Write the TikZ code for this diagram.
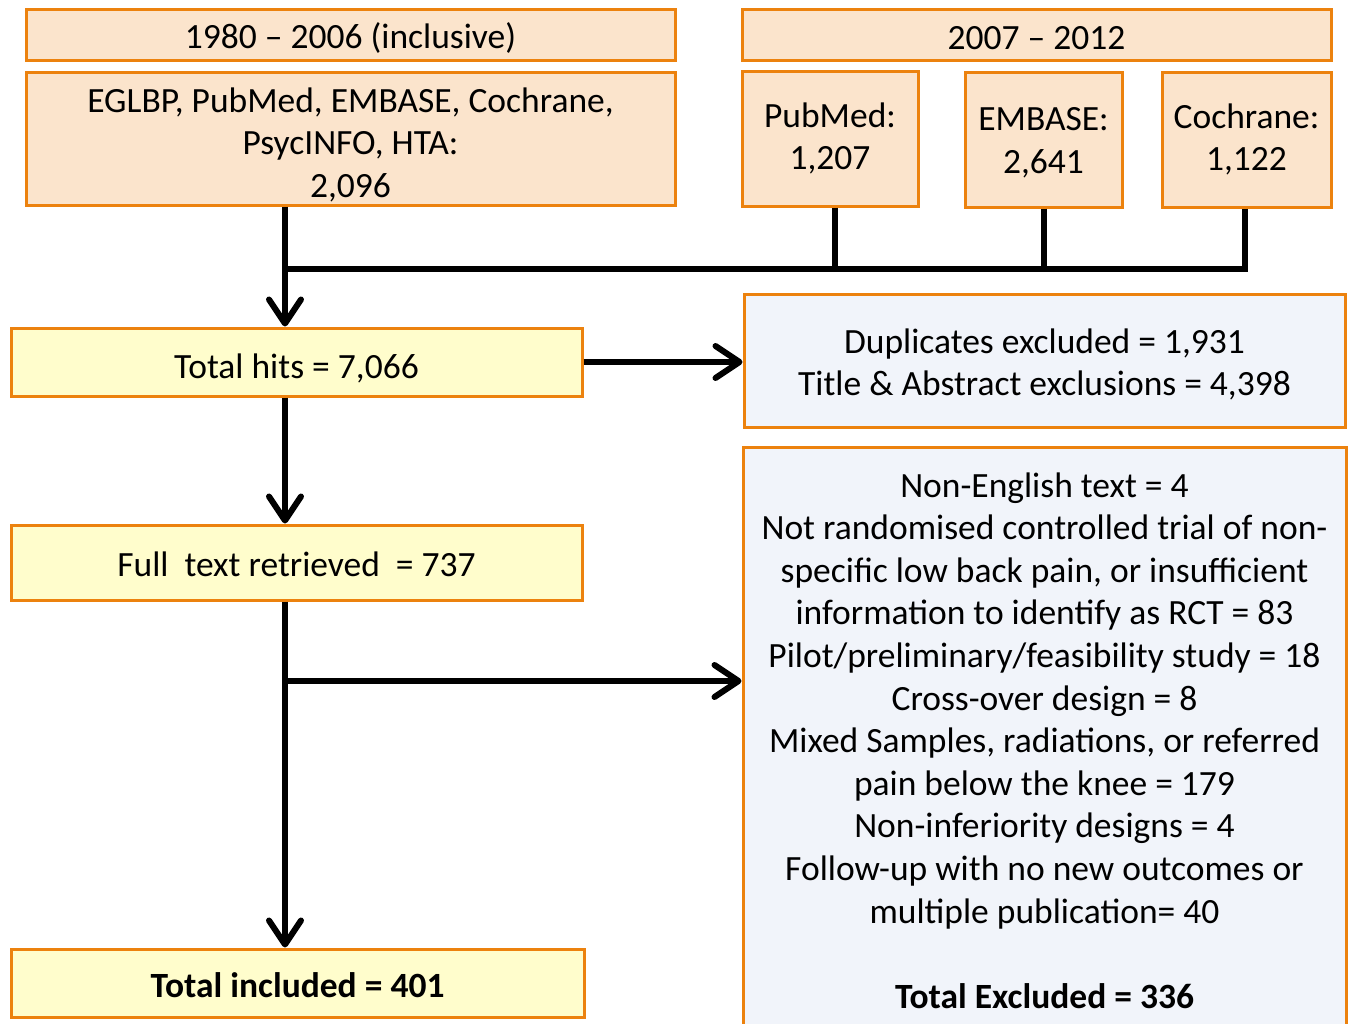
\documentclass[tikz,border=0pt]{standalone}
\usepackage{fontspec}
\setmainfont{Carlito}
\usetikzlibrary{arrows.meta}
\definecolor{borange}{RGB}{236,130,14}
\definecolor{peach}{RGB}{251,228,204}
\definecolor{lyellow}{RGB}{255,253,204}
\definecolor{lblue}{RGB}{241,244,250}
\tikzset{
  box/.style={draw=borange, line width=3pt, rectangle, inner sep=0pt, align=center,
    font=\fontsize{35.5}{42.5}\selectfont},
  one/.style={text height=28pt, text depth=0pt},
  txt/.style={inner sep=0pt, align=center, font=\fontsize{35.5}{42.5}\selectfont},
  peachbox/.style={box, fill=peach},
  yellowbox/.style={box, fill=lyellow},
  bluebox/.style={box, fill=lblue},
  conn/.style={line width=6pt, black},
  arr/.style={conn, -{Straight Barb[length=24pt,width=32pt,line cap=round,line join=round]}},
}
\begin{document}
\begin{tikzpicture}[x=1pt,y=-1pt]
\fill[white] (0,0) rectangle (1349,1023);
\useasboundingbox (0,0) rectangle (1349,1023);

\node[peachbox, one, minimum width=649pt, minimum height=51pt] (A) at (350.5,34.5) {1980 -- 2006 (inclusive)};
\node[peachbox, minimum width=649pt, minimum height=133pt] (B) at (350.5,138.5) {};
\node[txt, yshift=-6pt] (Bt) at (B) {EGLBP, PubMed, EMBASE, Cochrane,\\ PsycINFO, HTA:\\ 2,096};
\node[peachbox, text height=30pt, text depth=0pt, minimum width=589pt, minimum height=51pt] (C) at (1036.5,34.5) {2007 -- 2012};
\node[peachbox, minimum width=176pt, minimum height=135pt] (P) at (830,138.5) {PubMed:\\1,207};
\node[peachbox, minimum width=157pt, minimum height=135pt] (E) at (1043.5,139.5) {};
\node[txt, yshift=-3pt] (Et) at (E) {EMBASE:\\2,641};
\node[peachbox, minimum width=169pt, minimum height=135pt] (Co) at (1246.5,139.5) {Cochrane:\\1,122};

\node[yellowbox, text height=32pt, text depth=0pt, minimum width=571pt, minimum height=68pt] (TH) at (296.5,362) {Total hits = 7,066};
\node[bluebox, minimum width=601pt, minimum height=133pt] (D) at (1044.5,360.5) {};
\node[txt, yshift=-4pt] (Dt) at (D) {Duplicates excluded = 1,931\\Title \& Abstract exclusions = 4,398};
\node[yellowbox, one, minimum width=571pt, minimum height=75pt] (FT) at (296.5,562.5) {Full\ \ text retrieved\ \ = 737};
\node[yellowbox, one, minimum width=573pt, minimum height=68pt] (TI) at (297.5,983) {\bfseries Total included = 401};
\node[bluebox, minimum width=603pt, minimum height=583pt] (X) at (1044.5,738.5) {};
\node[txt, yshift=-2pt, font=\fontsize{35.5}{42.6}\selectfont] (Xt) at (X)
  {Non-English text = 4\\
   Not randomised controlled trial of non-\\
   specific low back pain, or insufficient\\
   information to identify as RCT = 83\\
   Pilot/preliminary/feasibility study = 18\\
   Cross-over design = 8\\
   Mixed Samples, radiations, or referred\\
   pain below the knee = 179\\
   Non-inferiority designs = 4\\
   Follow-up with no new outcomes or\\
   multiple publication= 40\\[42.6pt]
   \bfseries Total Excluded = 336};

\coordinate (j1) at (285,269);
\coordinate (j2) at (285,681);
\coordinate (ps) at ([xshift=5pt]P.south);
\coordinate (cs) at ([xshift=-2pt]Co.south);

\draw[conn] (ps) -- (ps |- j1);
\draw[conn] (E.south) -- (E.south |- j1);
\draw[conn] (cs) -- (cs |- j1) -- (j1);
\draw[arr] (B.south -| j1) -- (TH.north -| j1);
\draw[arr] (TH.east) -- (TH.east -| D.west);
\draw[arr] (TH.south -| j1) -- (FT.north -| j1);
\draw[arr] (FT.south -| j1) -- (TI.north -| j1);
\draw[arr] (j2) -- (j2 -| X.west);
\end{tikzpicture}
\end{document}
